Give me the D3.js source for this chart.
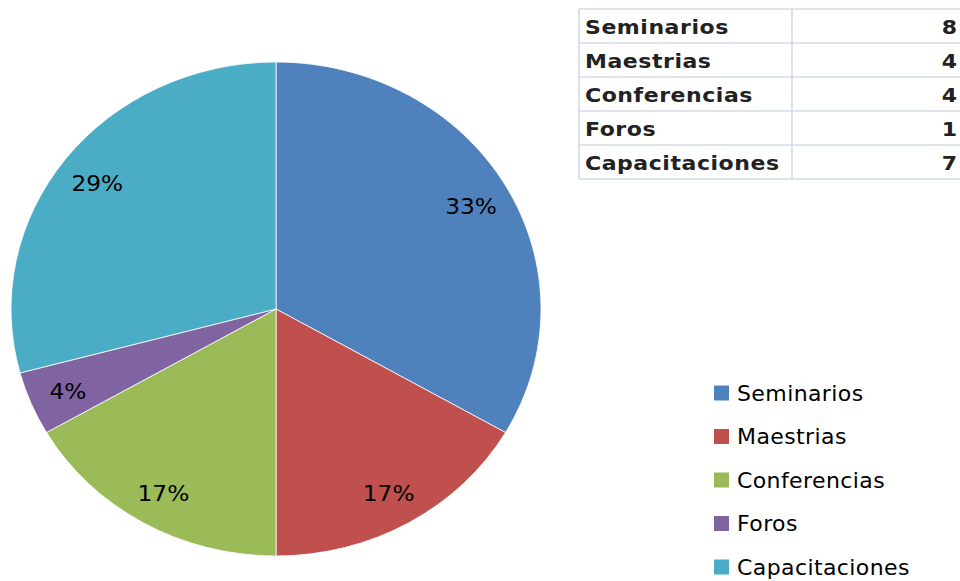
<!DOCTYPE html>
<html>
<head>
<meta charset="utf-8">
<script src="https://cdn.jsdelivr.net/npm/d3@7"></script>
<style>
  body { margin: 0; background: #fff; }
  svg { display: block; }
</style>
</head>
<body>
<div id="chart"></div>
<script>
// data
var categories = ["Seminarios", "Maestrias", "Conferencias", "Foros", "Capacitaciones"];
var values = [8, 4, 4, 1, 7];
var colors = ["#4F81BD", "#C0504D", "#9BBB59", "#8064A2", "#4BACC6"];

var width = 960, height = 581;

var svg = d3.select("#chart").append("svg")
    .attr("width", width)
    .attr("height", height);

// pie (picture is a bit stretched sideways, so draw it as an ellipse)
var cx = 276, cy = 309, ry = 247, rx = 265;
var sx = rx / ry;

var total = d3.sum(values);
var pie = d3.pie().sort(null).value(function (d) { return d; });
var arcs = pie(values);

var arc = d3.arc().innerRadius(0).outerRadius(ry);
var labelArc = d3.arc().innerRadius(ry * 0.85).outerRadius(ry * 0.85);

var pieG = svg.append("g")
    .attr("transform", "translate(" + cx + "," + cy + ") scale(" + sx + ",1)");

pieG.selectAll("path")
    .data(arcs)
    .enter().append("path")
    .attr("d", arc)
    .attr("fill", function (d, i) { return colors[i]; })
    .attr("stroke", "#ffffff")
    .attr("stroke-width", 0.8)
    .attr("vector-effect", "non-scaling-stroke");

svg.append("g")
    .selectAll("text")
    .data(arcs)
    .enter().append("text")
    .attr("transform", function (d) {
        var c = labelArc.centroid(d);
        return "translate(" + (cx + c[0] * sx) + "," + (cy + c[1]) + ") scale(1.06,1)";
    })
    .attr("dy", "0.45em")
    .attr("text-anchor", "middle")
    .style("font-family", "DejaVu Sans, sans-serif")
    .style("font-size", "22px")
    .style("fill", "#000")
    .text(function (d) { return Math.round(d.value / total * 100) + "%"; });

// data table, top right
var tableX = 579, colX = 792, tableTop = 9, rowH = 34;
var rowY = d3.scaleLinear().domain([0, categories.length]).range([tableTop, tableTop + rowH * categories.length]);

var table = svg.append("g");
var gridColor = "#d3dae6";

d3.range(categories.length + 1).forEach(function (i) {
    table.append("line")
        .attr("x1", tableX).attr("x2", width + 10)
        .attr("y1", rowY(i)).attr("y2", rowY(i))
        .attr("stroke", gridColor).attr("stroke-width", 1.6);
});
[tableX, colX].forEach(function (x) {
    table.append("line")
        .attr("x1", x).attr("x2", x)
        .attr("y1", rowY(0)).attr("y2", rowY(categories.length))
        .attr("stroke", gridColor).attr("stroke-width", 1.6);
});

// the screenshot text is wide, so stretch it a little
table.selectAll("text.cat")
    .data(categories)
    .enter().append("text")
    .attr("class", "cat")
    .attr("transform", function (d, i) {
        return "translate(" + (tableX + 6) + "," + (rowY(i) + rowH / 2 + 7.5) + ") scale(1.1,1)";
    })
    .style("font-family", "DejaVu Sans, sans-serif")
    .style("font-weight", "bold")
    .style("font-size", "20px")
    .style("letter-spacing", "0.5px")
    .style("fill", "#222")
    .text(function (d) { return d; });

table.selectAll("text.val")
    .data(values)
    .enter().append("text")
    .attr("class", "val")
    .attr("transform", function (d, i) {
        return "translate(957," + (rowY(i) + rowH / 2 + 7.5) + ") scale(1.1,1)";
    })
    .attr("text-anchor", "end")
    .style("font-family", "DejaVu Sans, sans-serif")
    .style("font-weight", "bold")
    .style("font-size", "20px")
    .style("fill", "#222")
    .text(function (d) { return d; });

// legend, bottom right
var legY = d3.scalePoint().domain(categories).range([393, 567]);

var legend = svg.append("g")
    .selectAll("g")
    .data(categories)
    .enter().append("g")
    .attr("transform", function (d) { return "translate(714," + legY(d) + ")"; });

legend.append("rect")
    .attr("x", 0).attr("y", -7.5)
    .attr("width", 15).attr("height", 15)
    .attr("fill", function (d, i) { return colors[i]; });

legend.append("text")
    .attr("x", 23)
    .attr("dy", "0.36em")
    .style("font-family", "DejaVu Sans, sans-serif")
    .style("font-size", "22px")
    .style("letter-spacing", "0.4px")
    .style("fill", "#000")
    .text(function (d) { return d; });
</script>
</body>
</html>
